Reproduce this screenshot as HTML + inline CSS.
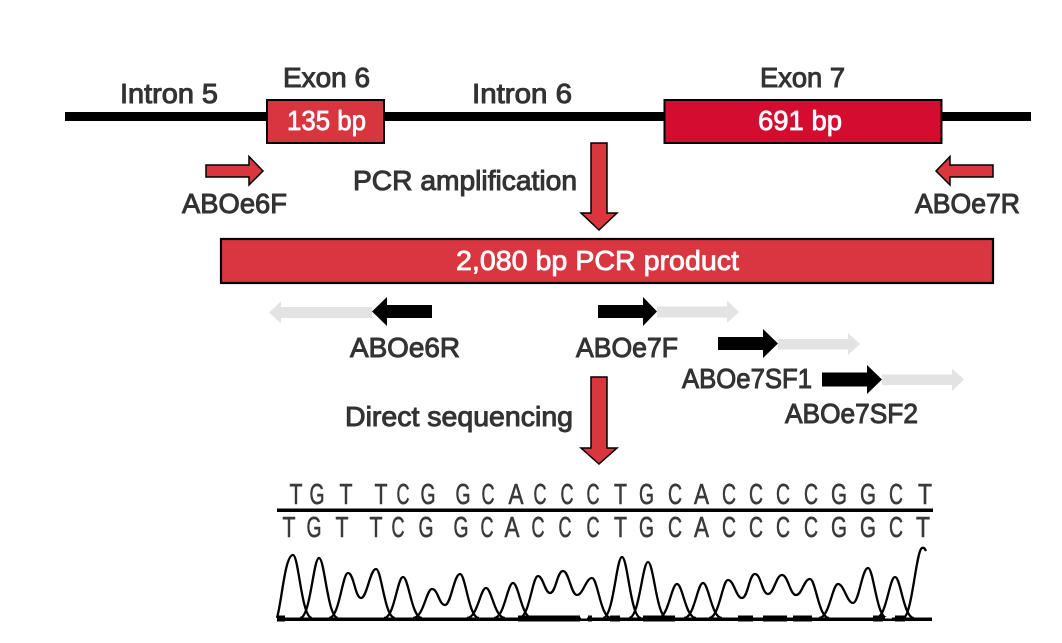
<!DOCTYPE html>
<html>
<head>
<meta charset="utf-8">
<style>
  html,body{margin:0;padding:0;background:#fff;}
  svg{display:block;}
  .lbl{font-family:"Liberation Sans",sans-serif;font-size:28px;fill:#333;stroke:#333;stroke-width:1.0;}
  .wl{font-family:"Liberation Sans",sans-serif;font-size:28px;fill:#fff;stroke:#fff;stroke-width:0.8;}
  .sq{font-family:"Liberation Sans",sans-serif;font-size:28.5px;fill:#3a3a3a;stroke:#3a3a3a;stroke-width:0.6;}
</style>
</head>
<body>
<svg width="1062" height="643" viewBox="0 0 1062 643" xmlns="http://www.w3.org/2000/svg">
  <rect x="0" y="0" width="1062" height="643" fill="#fff"/>

  <rect x="65" y="112" width="966" height="9" fill="#000"/>
  <rect x="267" y="100" width="117" height="43" fill="#d9353f" stroke="#000" stroke-width="2"/>
  <rect x="664.5" y="100" width="277" height="43" fill="#d40c30" stroke="#000" stroke-width="2"/>

  <text class="lbl" x="120" y="103" textLength="98" lengthAdjust="spacingAndGlyphs">Intron 5</text>
  <text class="lbl" x="283" y="87" textLength="87" lengthAdjust="spacingAndGlyphs">Exon 6</text>
  <text class="lbl" x="472" y="103" textLength="100" lengthAdjust="spacingAndGlyphs">Intron 6</text>
  <text class="lbl" x="760" y="87" textLength="85" lengthAdjust="spacingAndGlyphs">Exon 7</text>
  <text class="wl" x="287" y="130" textLength="79" lengthAdjust="spacingAndGlyphs">135 bp</text>
  <text class="wl" x="758" y="130" textLength="84" lengthAdjust="spacingAndGlyphs">691 bp</text>

  <polygon points="206,165 249,165 249,156.5 263,171 249,185 249,177 206,177" fill="#d9363e" stroke="#000" stroke-width="1.5" stroke-linejoin="miter"/>
  <polygon points="993,165 950,165 950,156.5 936,171 950,185 950,177 993,177" fill="#d9363e" stroke="#000" stroke-width="1.5" stroke-linejoin="miter"/>
  <text class="lbl" x="182" y="213" textLength="105" lengthAdjust="spacingAndGlyphs">ABOe6F</text>
  <text class="lbl" x="915" y="213" textLength="105" lengthAdjust="spacingAndGlyphs">ABOe7R</text>

  <text class="lbl" x="353" y="190" textLength="224" lengthAdjust="spacingAndGlyphs">PCR amplification</text>
  <polygon points="591,143 607,143 607,213 617,213 599,230 581,213 591,213" fill="#d9363e" stroke="#000" stroke-width="1.5"/>

  <rect x="221" y="239" width="772" height="44" fill="#da3640" stroke="#000" stroke-width="2.2"/>
  <text class="wl" x="456" y="270" textLength="283" lengthAdjust="spacingAndGlyphs">2,080 bp PCR product</text>

  <polygon points="372,307 281,307 281,301.5 269,312.5 281,323.5 281,318 372,318" fill="#e3e3e3"/>
  <polygon points="432,305 387,305 387,297 372,311.5 387,326 387,318 432,318" fill="#000"/>
  <polygon points="657,306.5 727,306.5 727,300.5 739,312 727,323 727,317.5 657,317.5" fill="#e3e3e3"/>
  <polygon points="598,305 643,305 643,297 657,311.5 643,326 643,318 598,318" fill="#000"/>
  <polygon points="778,339 848,339 848,333 860,344 848,355 848,349.5 778,349.5" fill="#e3e3e3"/>
  <polygon points="718,337 763,337 763,329 778,343.5 763,358 763,350 718,350" fill="#000"/>
  <polygon points="882,374.5 952,374.5 952,368.5 964,379.5 952,391 952,385 882,385" fill="#e3e3e3"/>
  <polygon points="822,372.5 867,372.5 867,365 882,379.5 867,394 867,386.5 822,386.5" fill="#000"/>

  <text class="lbl" x="350" y="357" textLength="110" lengthAdjust="spacingAndGlyphs">ABOe6R</text>
  <text class="lbl" x="576" y="357" textLength="102" lengthAdjust="spacingAndGlyphs">ABOe7F</text>
  <text class="lbl" x="682" y="388" textLength="130" lengthAdjust="spacingAndGlyphs">ABOe7SF1</text>
  <text class="lbl" x="785" y="423" textLength="133" lengthAdjust="spacingAndGlyphs">ABOe7SF2</text>

  <text class="lbl" x="345" y="426" textLength="228" lengthAdjust="spacingAndGlyphs">Direct sequencing</text>
  <polygon points="591,377 607,377 607,448 617,448 599,464 581,448 591,448" fill="#d9363e" stroke="#000" stroke-width="1.5"/>

  <g class="sq">
    <text x="289.5" y="504" textLength="13" lengthAdjust="spacingAndGlyphs">T</text>
    <text x="309.5" y="504" textLength="15" lengthAdjust="spacingAndGlyphs">G</text>
    <text x="339.5" y="504" textLength="13" lengthAdjust="spacingAndGlyphs">T</text>
    <text x="374.5" y="504" textLength="13" lengthAdjust="spacingAndGlyphs">T</text>
    <text x="396.5" y="504" textLength="13" lengthAdjust="spacingAndGlyphs">C</text>
    <text x="420.5" y="504" textLength="15" lengthAdjust="spacingAndGlyphs">G</text>
    <text x="455.5" y="504" textLength="15" lengthAdjust="spacingAndGlyphs">G</text>
    <text x="481.5" y="504" textLength="13" lengthAdjust="spacingAndGlyphs">C</text>
    <text x="508.5" y="504" textLength="15" lengthAdjust="spacingAndGlyphs">A</text>
    <text x="533.5" y="504" textLength="13" lengthAdjust="spacingAndGlyphs">C</text>
    <text x="560.5" y="504" textLength="13" lengthAdjust="spacingAndGlyphs">C</text>
    <text x="586.5" y="504" textLength="13" lengthAdjust="spacingAndGlyphs">C</text>
    <text x="614" y="504" textLength="13" lengthAdjust="spacingAndGlyphs">T</text>
    <text x="639" y="504" textLength="15" lengthAdjust="spacingAndGlyphs">G</text>
    <text x="668" y="504" textLength="14" lengthAdjust="spacingAndGlyphs">C</text>
    <text x="694" y="504" textLength="15" lengthAdjust="spacingAndGlyphs">A</text>
    <text x="722" y="504" textLength="14" lengthAdjust="spacingAndGlyphs">C</text>
    <text x="749" y="504" textLength="14" lengthAdjust="spacingAndGlyphs">C</text>
    <text x="776" y="504" textLength="14" lengthAdjust="spacingAndGlyphs">C</text>
    <text x="804" y="504" textLength="14" lengthAdjust="spacingAndGlyphs">C</text>
    <text x="831" y="504" textLength="16" lengthAdjust="spacingAndGlyphs">G</text>
    <text x="860" y="504" textLength="16" lengthAdjust="spacingAndGlyphs">G</text>
    <text x="889" y="504" textLength="14" lengthAdjust="spacingAndGlyphs">C</text>
    <text x="918" y="504" textLength="14" lengthAdjust="spacingAndGlyphs">T</text>
  </g>
  <rect x="277" y="508.5" width="656" height="3.5" fill="#000"/>
  <g class="sq">
    <text x="282.5" y="537" textLength="13" lengthAdjust="spacingAndGlyphs">T</text>
    <text x="306.5" y="537" textLength="15" lengthAdjust="spacingAndGlyphs">G</text>
    <text x="335.5" y="537" textLength="13" lengthAdjust="spacingAndGlyphs">T</text>
    <text x="369.5" y="537" textLength="13" lengthAdjust="spacingAndGlyphs">T</text>
    <text x="391.5" y="537" textLength="13" lengthAdjust="spacingAndGlyphs">C</text>
    <text x="418.5" y="537" textLength="15" lengthAdjust="spacingAndGlyphs">G</text>
    <text x="453.5" y="537" textLength="15" lengthAdjust="spacingAndGlyphs">G</text>
    <text x="480.5" y="537" textLength="13" lengthAdjust="spacingAndGlyphs">C</text>
    <text x="504.5" y="537" textLength="15" lengthAdjust="spacingAndGlyphs">A</text>
    <text x="531.5" y="537" textLength="13" lengthAdjust="spacingAndGlyphs">C</text>
    <text x="558.5" y="537" textLength="13" lengthAdjust="spacingAndGlyphs">C</text>
    <text x="586.5" y="537" textLength="13" lengthAdjust="spacingAndGlyphs">C</text>
    <text x="614" y="537" textLength="13" lengthAdjust="spacingAndGlyphs">T</text>
    <text x="639" y="537" textLength="15" lengthAdjust="spacingAndGlyphs">G</text>
    <text x="668" y="537" textLength="14" lengthAdjust="spacingAndGlyphs">C</text>
    <text x="694" y="537" textLength="15" lengthAdjust="spacingAndGlyphs">A</text>
    <text x="722" y="537" textLength="14" lengthAdjust="spacingAndGlyphs">C</text>
    <text x="749" y="537" textLength="14" lengthAdjust="spacingAndGlyphs">C</text>
    <text x="776" y="537" textLength="14" lengthAdjust="spacingAndGlyphs">C</text>
    <text x="804" y="537" textLength="14" lengthAdjust="spacingAndGlyphs">C</text>
    <text x="831" y="537" textLength="16" lengthAdjust="spacingAndGlyphs">G</text>
    <text x="860" y="537" textLength="16" lengthAdjust="spacingAndGlyphs">G</text>
    <text x="889" y="537" textLength="14" lengthAdjust="spacingAndGlyphs">C</text>
    <text x="916" y="537" textLength="14" lengthAdjust="spacingAndGlyphs">T</text>
  </g>

  <g fill="none" stroke="#000" stroke-width="2.3" stroke-linejoin="round">
    <path d="M277,618 C282,600 285,555 293,555 C298.7,555 301.5,618 312,618"/>
    <path d="M300,618 C310.5,618 313.3,558 319,558 C324.7,558 327.5,618 338,618"/>
    <path d="M329,618 C339.5,618 342.3,573 348,573 C354,573 355,598 361,598 C367,598 370,569 376,569 C381.7,569 384.5,618 395,618"/>
    <path d="M384,618 C394.5,618 397.3,577 403,577 C408.7,577 411.5,618 422,618"/>
    <path d="M413,618 C423.5,618 426.3,589 432,589 C438,589 439,605 445,605 C451,605 454,574 460,574 C465.7,574 468.5,618 479,618"/>
    <path d="M467,618 C477.5,618 480.3,588 486,588 C491.7,588 494.5,618 505,618"/>
    <path d="M494,618 C504.5,618 507.3,583 513,583 C518.7,583 521.5,618 532,618"/>
    <path d="M519,618 C529.5,618 532.3,576 538,576 C543,576 545,593 550,593 C556,593 557,571 563,571 C569,571 571,595 577,595 C583,595 586,578 592,578 C597.7,578 600.5,618 611,618"/>
    <path d="M603,618 C613.5,618 616.3,557 622,557 C627.7,557 630.5,618 641,618"/>
    <path d="M629,618 C639.5,618 642.3,562 648,562 C653.7,562 656.5,618 667,618"/>
    <path d="M658,618 C668.5,618 671.3,584 677,584 C682.7,584 685.5,618 696,618"/>
    <path d="M684,618 C694.5,618 697.3,583 703,583 C708.7,583 711.5,618 722,618"/>
    <path d="M709,618 C719.5,618 722.3,580 728,580 C734,580 736,598 742,598 C748,598 749,574 755,574 C761,574 762,594 768,594 C774,594 776,575 782,575 C788,575 790,595 796,595 C802,595 804,579 810,579 C815.7,579 818.5,618 829,618"/>
    <path d="M819,618 C829.5,618 832.3,584 838,584 C844,584 847,603 853,603 C859,603 862,568 868,568 C873.7,568 876.5,618 887,618"/>
    <path d="M876,618 C886.5,618 889.3,577 895,577 C900.7,577 903.5,618 914,618"/>
    <path d="M903,618 C912,618 916,550 922,548 C924,547 925,549 926,551"/>
  </g>
  <rect x="277" y="617.5" width="655" height="3.5" fill="#000"/>
  <g fill="#000">
    <rect x="277" y="615.5" width="8" height="6"/>
    <rect x="518" y="615.5" width="62" height="6"/>
    <rect x="588" y="615.5" width="4" height="6"/>
    <rect x="610" y="615.5" width="10" height="6"/>
    <rect x="643" y="615.5" width="32" height="6"/>
    <rect x="738" y="615.5" width="15" height="6"/>
    <rect x="763" y="615.5" width="24" height="6"/>
    <rect x="793" y="615.5" width="19" height="6"/>
    <rect x="873" y="615.5" width="10" height="6"/>
    <rect x="895" y="615.5" width="10" height="6"/>
  </g>
  <rect x="581" y="617" width="6" height="1.5" fill="#fff"/>
  <rect x="885" y="617" width="7" height="1.5" fill="#fff"/>
</svg>
</body>
</html>
